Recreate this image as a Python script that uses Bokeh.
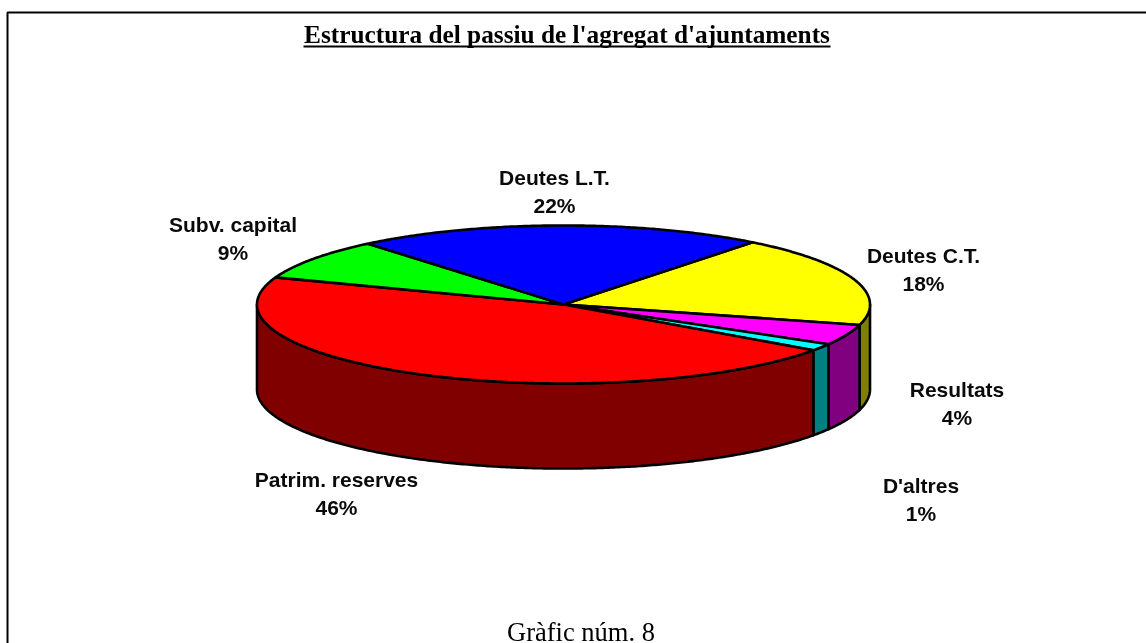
import numpy as np
from bokeh.plotting import figure
from bokeh.models import Range1d
from bokeh.core.properties import value
from bokeh.embed import file_html
from bokeh.resources import INLINE

# Data, clockwise from the start angle
categories = ["Deutes C.T.", "Resultats", "D'altres", "Patrim. reserves", "Subv. capital", "Deutes L.T."]
values = [18.6, 4.2, 1.45, 45.75, 8.4, 21.6]
pct_labels = ["18%", "4%", "1%", "46%", "9%", "22%"]
top_colors = ["#ffff00", "#ff00ff", "#00ffff", "#ff0000", "#00ff00", "#0000ff"]
side_colors = ["#808000", "#800080", "#008080", "#800000", "#008000", "#000080"]
title_text = "Estructura del passiu de l'agregat d'ajuntaments"
footer_text = "Gràfic núm. 8"

W, H = 1146, 643
CX, CY, RX, RY, DEPTH = 563, 304, 306.5, 79, 85
START = 51.9
label_xy = [(923, 255), (956.5, 388.5), (920.5, 484.5), (336, 478.5), (232.5, 224), (554, 177)]
LINE_GAP = 28

p = figure(width=W, height=H, x_range=Range1d(0, W), y_range=Range1d(H, 0),
           output_backend="svg", toolbar_location=None, min_border=0,
           styles={"position": "fixed", "left": "0", "top": "0"})
p.axis.visible = False
p.grid.visible = False
p.outline_line_color = None
p.background_fill_color = "white"


def rim(a0, a1):
    t = np.radians(np.linspace(a0, a1, max(int(abs(a1 - a0) * 2), 2)))
    return CX + RX * np.cos(t), CY - RY * np.sin(t)


# cumulative clockwise angles
fractions = np.array(values) / sum(values)
ends = START - np.cumsum(fractions) * 360
starts = np.concatenate([[START], ends[:-1]])

# side walls (only the front half, -180..0 degrees)
for a0, a1, col in zip(starts, ends, side_colors):
    for shift in (0, -360):
        hi = min(a0 + shift, 0)
        lo = max(a1 + shift, -180)
        if hi > lo:
            x, y = rim(hi, lo)
            xs = np.concatenate([x, x[::-1]])
            ys = np.concatenate([y, y[::-1] + DEPTH])
            p.patch(xs, ys, fill_color=col, line_color="black", line_width=2.6, line_join="round")

# top faces
for a0, a1, col in zip(starts, ends, top_colors):
    x, y = rim(a0, a1)
    xs = np.concatenate([[CX], x])
    ys = np.concatenate([[CY], y])
    p.patch(xs, ys, fill_color=col, line_color="black", line_width=2.6, line_join="round")

# labels
for (lx, ly), name, pct in zip(label_xy, categories, pct_labels):
    for txt, yy in ((name, ly), (pct, ly + LINE_GAP)):
        p.text([lx], [yy], text=[txt], text_align="center", text_baseline="alphabetic",
               text_font=value("Liberation Sans"), text_font_style="bold",
               text_font_size="21px", text_color="#0a0a0a")

# title, underline, footer
p.text([566.5], [33], text=[title_text], text_align="center", text_baseline="alphabetic",
       text_font=value("Liberation Serif"), text_font_style="bold", text_font_size="25.3px",
       text_color="black")
p.line([303, 830], [46, 46], line_color="black", line_width=2)
p.text([580.5], [631], text=[footer_text], text_align="center", text_baseline="alphabetic",
       text_font=value("Liberation Serif"), text_font_size="26.5px", text_color="black")

# chart-area border (left and top edges only are in view)
p.line([7, 7, W], [H, 12, 12], line_color="black", line_width=2)

open("out.html", "w").write(file_html(p, INLINE))
